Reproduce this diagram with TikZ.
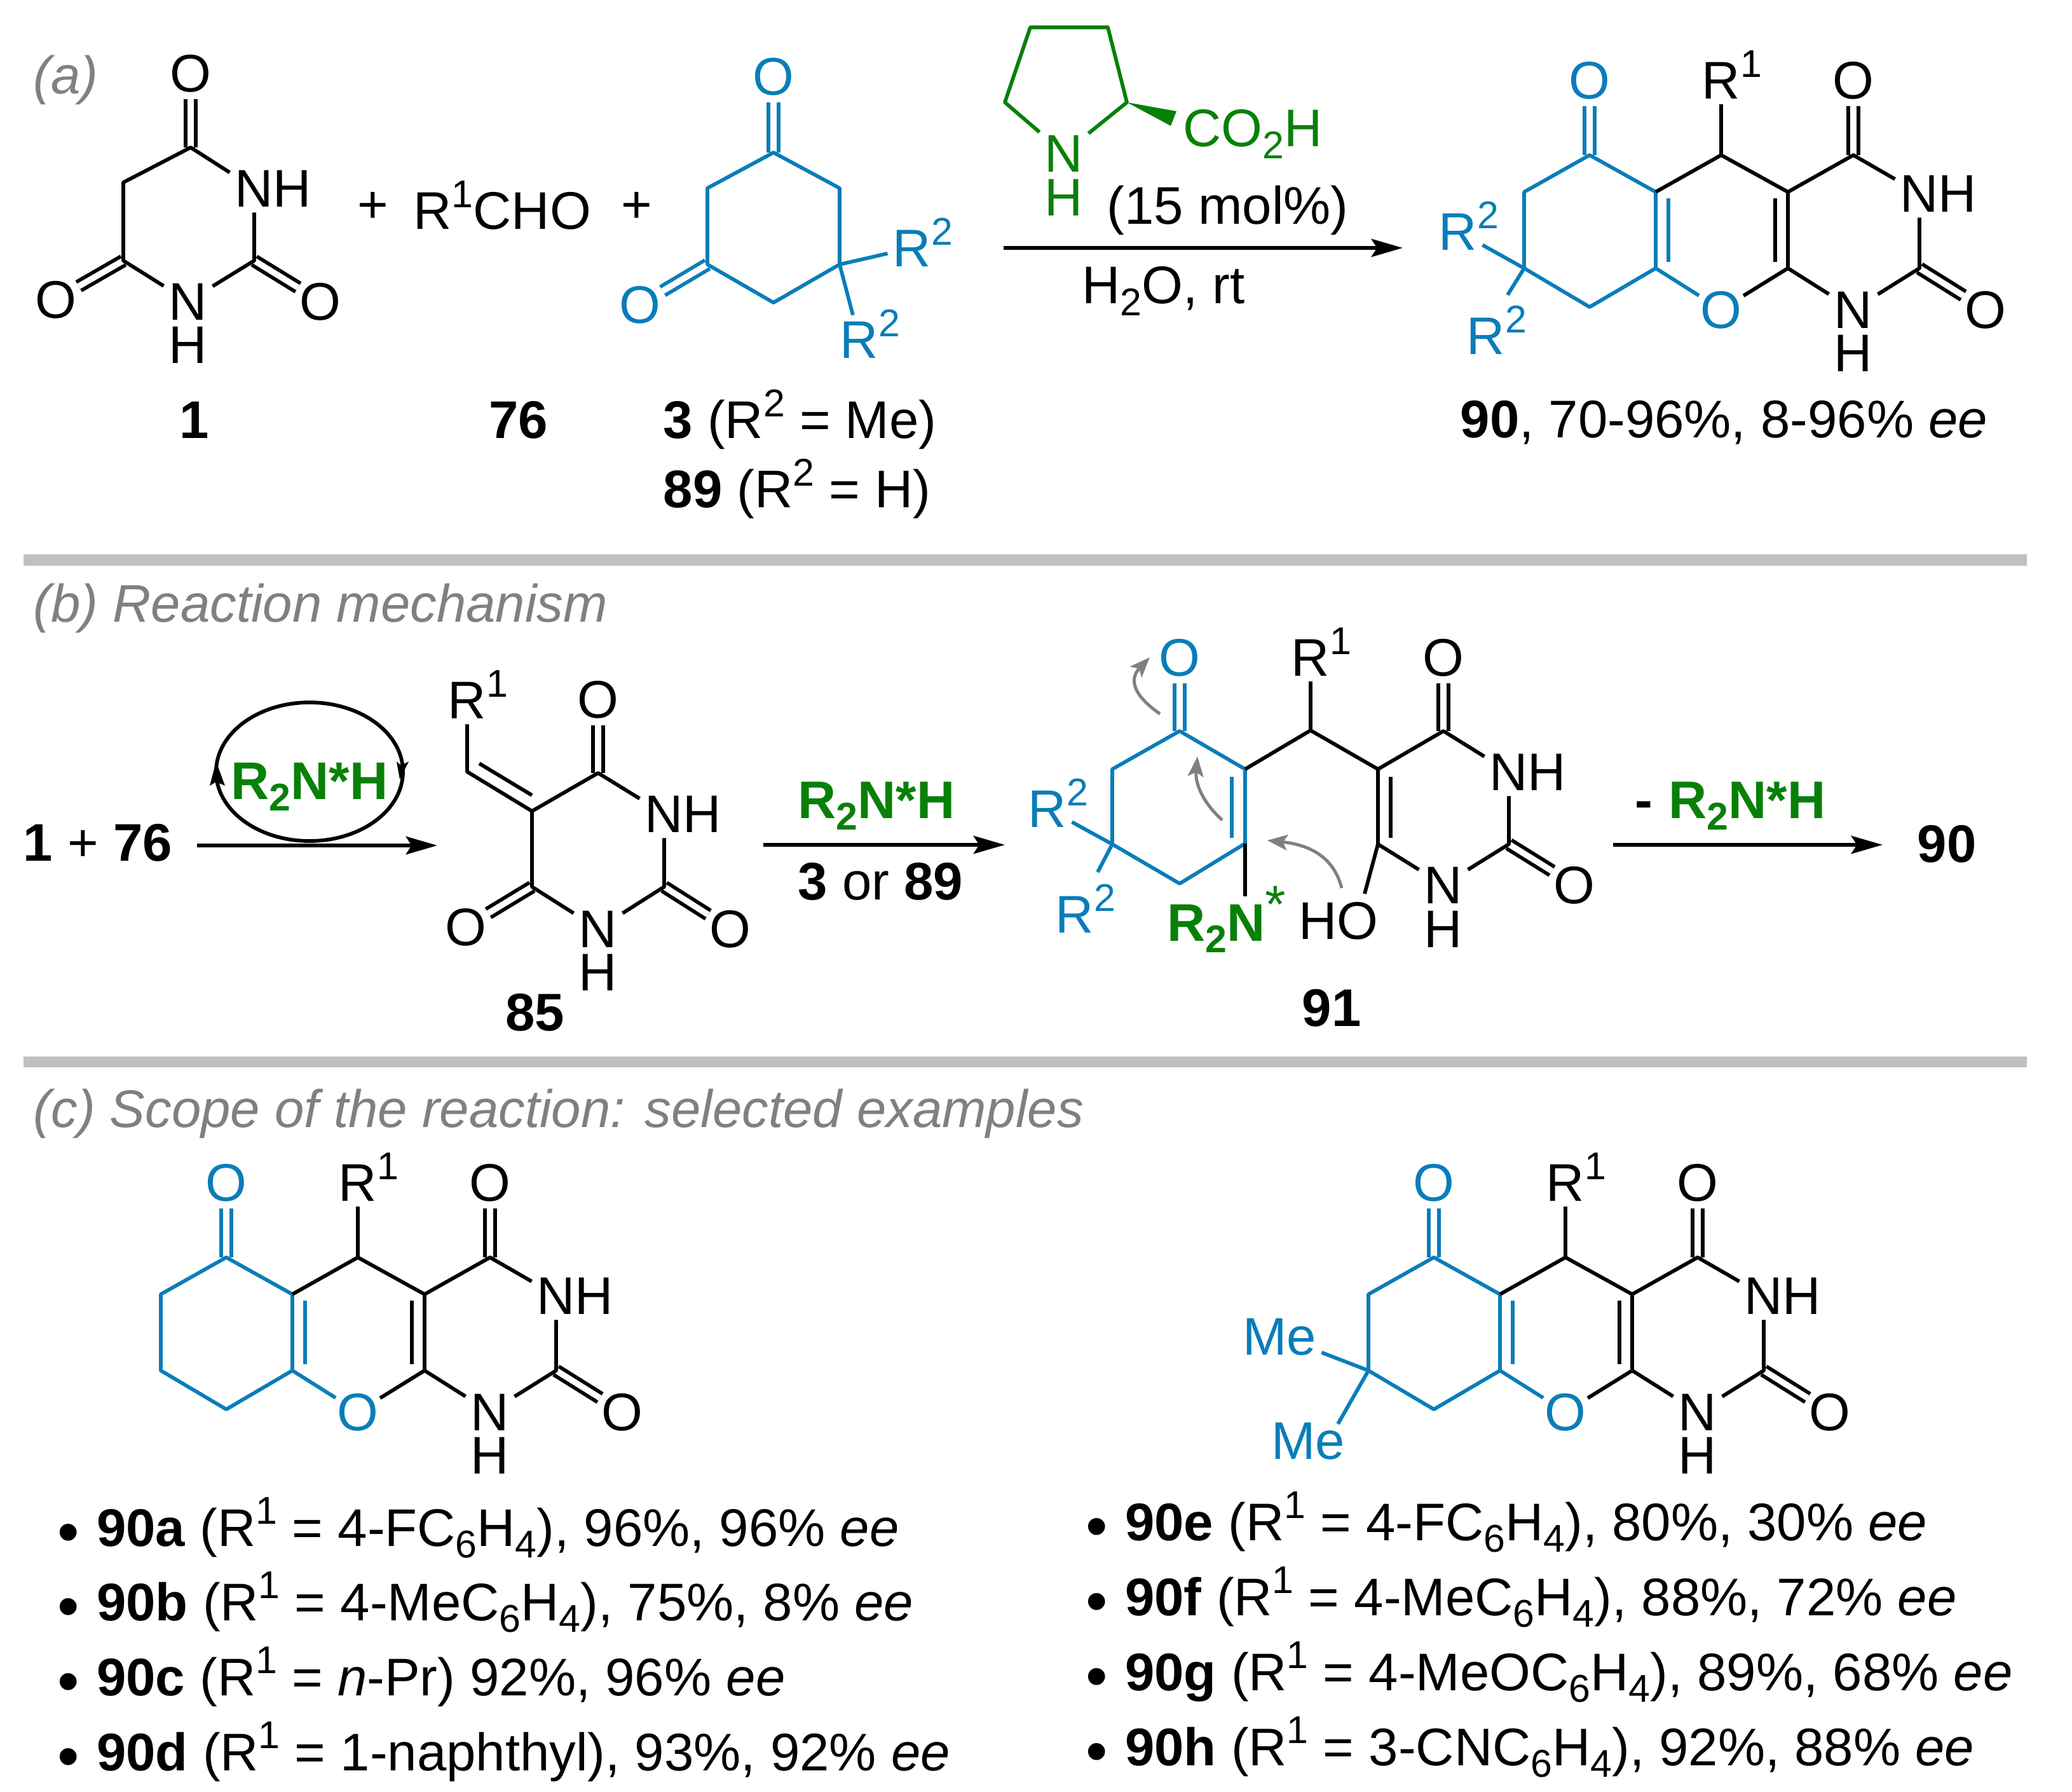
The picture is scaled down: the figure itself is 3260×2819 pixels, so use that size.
\documentclass[tikz,border=0pt]{standalone}
\usepackage{fontspec}
\setmainfont{Liberation Sans}
\usetikzlibrary{arrows.meta}
\definecolor{chemblue}{RGB}{10,125,184}
\definecolor{chemgreen}{RGB}{8,128,8}
\definecolor{labgray}{RGB}{128,128,128}
\definecolor{bargray}{RGB}{192,192,192}
\newcommand{\supr}[1]{\raisebox{9.7pt}{\fontsize{17.3}{17.3}\selectfont #1}}
\newcommand{\subr}[1]{\raisebox{-5.2pt}{\fontsize{17.3}{17.3}\selectfont #1}}
\newcommand{\Rone}{R\rlap{\supr{1}}}
\newcommand{\Rtwo}{R\rlap{\supr{2}}}
\newcommand{\cat}{\textbf{R\subr{2}N*H}}
\newcommand{\itm}[1]{\raisebox{-3.4pt}{\fontsize{28}{28}\selectfont •}\hspace{7.7pt}#1}
\tikzset{
	atom/.style={inner sep=2.2pt,text height=17pt,text depth=0pt},
	hyd/.style={inner sep=0pt,text height=17pt,text depth=0pt},
	oxy/.style={circle,inner sep=-0.7pt,text height=17pt,text depth=0pt},
	lbl/.style={inner sep=0pt,anchor=base west},
	lblc/.style={inner sep=0pt,anchor=base},
	bond/.style={line width=1.65pt,line join=round},
	dbl/.style={bond,double=white,double distance=2.7pt},
	rxn/.style={line width=1.7pt,-{Stealth[length=14pt,width=8pt,inset=2.5pt]}},
	push/.style={labgray,line width=1.4pt,-{Stealth[length=9pt,width=7pt,inset=2pt]}},
	bar/.style={bargray}
}
\newcommand{\tricycle}[2]{
	\begin{scope}[shift={#2},name prefix=#1]
		\node[oxy,chemblue] (Oket) at (0,-118) {O};
		\node[atom] (Rsub) at (207,-118) {\Rone};
		\node[oxy] (Otop) at (415,-118) {O};
		\node[atom] (Nup) at (519,60) {N};
		\node[hyd] (Hup) at (579,60) {H};
		\node[atom] (Nlow) at (415,243) {N};
		\node[hyd] (Hlow) at (415,311) {H};
		\node[oxy] (Oright) at (623,243) {O};
		\node[oxy,chemblue] (Oring) at (207,243) {O};
		\coordinate (c1) at (0,0);
		\coordinate (c2) at (-103,58);
		\coordinate (c3) at (-103,178);
		\coordinate (c4) at (0,239);
		\coordinate (c5) at (104,178);
		\coordinate (c6) at (104,58);
		\coordinate (c7) at (207,0);
		\coordinate (c8) at (312,58);
		\coordinate (c9) at (312,178);
		\coordinate (c10) at (415,0);
		\coordinate (c11) at (519,178);
		\draw[dbl,chemblue] (c1) -- (Oket);
		\draw[dbl] (c10) -- (Otop);
		\draw[dbl] (c11) -- (Oright);
		\draw[bond,chemblue] (c6) -- (c1) -- (c2) -- (c3) -- (c4) -- (c5) -- (c6) -- cycle;
		\draw[bond,chemblue] (c5) -- (Oring);
		\draw[bond,chemblue] (124,68) -- (124,168);
		\draw[bond] (c6) -- (c7) -- (c8) -- (c9);
		\draw[bond] (292,68) -- (292,168);
		\draw[bond] (c7) -- (Rsub);
		\draw[bond] (Oring) -- (c9) -- (Nlow);
		\draw[bond] (c8) -- (c10) -- (Nup);
		\draw[bond] (Nup) -- (c11) -- (Nlow);
	\end{scope}
}
\begin{document}
\begin{tikzpicture}[x=0.01cm,y=-0.01cm,every node/.style={font=\fontsize{23.7}{28}\selectfont}]
	\useasboundingbox (0,0) rectangle (3260,2819);

	\node[lbl,labgray] (labA) at (52,148) {\textit{(a)}};
	\fill[bar] (37,872) rectangle (3189,890);
	\node[lbl,labgray] (labB) at (52,979) {\textit{(b) Reaction mechanism}};
	\fill[bar] (37,1662) rectangle (3189,1679);
	\node[lbl,labgray] (labC) at (52,1773) {\textit{(c) Scope of the reaction: selected examples}};

	\node[oxy] (baO) at (300,115) {O};
	\node[atom] (baN) at (400,296) {N};
	\node[hyd] (baNH) at (460,296) {H};
	\node[atom] (baM) at (296,474) {N};
	\node[hyd] (baMH) at (296,542) {H};
	\node[oxy] (baL) at (88,471) {O};
	\node[oxy] (baR) at (504,474) {O};
	\coordinate (ba1) at (300,232);
	\coordinate (ba2) at (194,287);
	\coordinate (ba3) at (194,410);
	\coordinate (ba4) at (400,410);
	\draw[dbl] (ba1) -- (baO);
	\draw[dbl] (ba3) -- (baL);
	\draw[dbl] (ba4) -- (baR);
	\draw[bond] (baN) -- (ba1) -- (ba2) -- (ba3) -- (baM) -- (ba4) -- (baN);
	\node[lblc] (lab1) at (306,690) {\textbf{1}};

	\node[inner sep=0pt] (plusA) at (587,326) {+};
	\node[lbl] (ald) at (650,361) {R\supr{1}CHO};
	\node[lblc] (lab76) at (816,690) {\textbf{76}};
	\node[inner sep=0pt] (plusB) at (1002,326) {+};

	\node[oxy,chemblue] (dkO) at (1217,120) {O};
	\node[oxy,chemblue] (dkP) at (1007,479) {O};
	\node[atom,chemblue] (dkR) at (1435,390) {\Rtwo};
	\node[atom,chemblue] (dkS) at (1352,534) {\Rtwo};
	\coordinate (dk1) at (1217,240);
	\coordinate (dk2) at (1113,296);
	\coordinate (dk3) at (1113,416);
	\coordinate (dk4) at (1217,476);
	\coordinate (dk5) at (1321,416);
	\coordinate (dk6) at (1321,296);
	\draw[dbl,chemblue] (dk1) -- (dkO);
	\draw[dbl,chemblue] (dk3) -- (dkP);
	\draw[bond,chemblue] (dk1) -- (dk2) -- (dk3) -- (dk4) -- (dk5) -- (dk6) -- cycle;
	\draw[bond,chemblue] (dkR) -- (dk5) -- (dkS);
	\node[lbl] (lab3) at (1043,690) {\textbf{3} (R\supr{2} = Me)};
	\node[lbl] (lab89) at (1043,799) {\textbf{89} (R\supr{2} = H)};

	\node[atom,chemgreen] (proN) at (1674,241) {N};
	\node[hyd,chemgreen] (proH) at (1674,310) {H};
	\coordinate (pro1) at (1581,161);
	\coordinate (pro2) at (1621,43);
	\coordinate (pro3) at (1743,43);
	\coordinate (pro4) at (1773,161);
	\draw[bond,chemgreen] (proN) -- (pro1) -- (pro2) -- (pro3) -- (pro4) -- (proN);
	\fill[chemgreen] (pro4) -- (1851,175) -- (1842,198) -- cycle;
	\node[lbl,chemgreen] (proC) at (1861,231) {CO\subr{2}H};
	\node[lbl] (mol) at (1741,353) {(15 mol\%)};
	\coordinate (arAa) at (1579,390);
	\coordinate (arAb) at (2207,390);
	\draw[rxn] (arAa) -- (arAb);
	\node[lbl] (solv) at (1702,478) {H\subr{2}O, rt};

	\tricycle{pr-}{(2501,244)}
	\node[atom,chemblue] (prR) at (2294,364) {\Rtwo};
	\node[atom,chemblue] (prS) at (2338,528) {\Rtwo};
	\coordinate (prSe) at (2372,464);
	\draw[bond,chemblue] (prR) -- (pr-c3) -- (prSe);
	\node[lbl] (lab90) at (2297,689) {\textbf{90}, 70-96\%, 8-96\% \textit{ee}};

	\node[lbl] (mixA) at (36,1354) {\textbf{1} + \textbf{76}};
	\coordinate (arBa) at (310,1330);
	\coordinate (arBb) at (688,1330);
	\draw[rxn] (arBa) -- (arBb);
	\draw[bond] (487,1214) ellipse [x radius=147,y radius=109];
	\fill (340,1198) -- (354,1236) -- (340,1230) -- (330,1236) -- cycle;
	\fill (629,1226) -- (643,1198) -- (631,1204) -- (624,1198) -- cycle;
	\node[lblc,chemgreen] (catA) at (487,1257) {\cat};

	\node[atom] (bnR) at (735,1101) {\Rone};
	\node[oxy] (bnO) at (941,1100) {O};
	\node[atom] (bnN) at (1045,1280) {N};
	\node[hyd] (bnNH) at (1105,1280) {H};
	\node[atom] (bnM) at (941,1461) {N};
	\node[hyd] (bnMH) at (941,1529) {H};
	\node[oxy] (bnL) at (733,1458) {O};
	\node[oxy] (bnP) at (1149,1461) {O};
	\coordinate (bn1) at (735,1214);
	\coordinate (bn2) at (837,1276);
	\coordinate (bn3) at (941,1216);
	\coordinate (bn4) at (837,1395);
	\coordinate (bn5) at (1045,1395);
	\draw[dbl] (bn3) -- (bnO);
	\draw[dbl] (bn4) -- (bnL);
	\draw[dbl] (bn5) -- (bnP);
	\draw[bond] (bnR) -- (bn1) -- (bn2);
	\draw[bond] (754,1201) -- (837,1251);
	\draw[bond] (bnN) -- (bn3) -- (bn2) -- (bn4) -- (bnM) -- (bn5) -- (bnN);
	\node[lblc] (lab85) at (842,1621) {\textbf{85}};

	\coordinate (arCa) at (1201,1329);
	\coordinate (arCb) at (1581,1329);
	\draw[rxn] (arCa) -- (arCb);
	\node[lbl,chemgreen] (catB) at (1255,1287) {\cat};
	\node[lbl] (dkSel) at (1255,1415) {\textbf{3} or \textbf{89}};

	\node[oxy,chemblue] (inO) at (1856,1034) {O};
	\node[atom] (inR) at (2062,1034) {\Rone};
	\node[oxy] (inU) at (2271,1034) {O};
	\node[atom] (inN) at (2374,1214) {N};
	\node[hyd] (inNH) at (2434,1214) {H};
	\node[atom] (inM) at (2271,1392) {N};
	\node[hyd] (inMH) at (2271,1461) {H};
	\node[oxy] (inP) at (2477,1392) {O};
	\node[atom,chemblue] (inA) at (1648,1272) {\Rtwo};
	\node[atom,chemblue] (inB) at (1691,1438) {\Rtwo};
	\node[lbl,chemgreen] (inAm) at (1836,1480) {\textbf{R\subr{2}N}\raisebox{8pt}{*}};
	\node[atom] (inHO) at (2106,1448) {HO};
	\coordinate (in1) at (1856,1150);
	\coordinate (in2) at (1750,1210);
	\coordinate (in3) at (1750,1328);
	\coordinate (in4) at (1856,1390);
	\coordinate (in5) at (1959,1327);
	\coordinate (in6) at (1959,1210);
	\coordinate (in7) at (2062,1149);
	\coordinate (in8) at (2168,1210);
	\coordinate (in9) at (2168,1328);
	\coordinate (in10) at (2271,1150);
	\coordinate (in11) at (2374,1328);
	\coordinate (inBe) at (1727,1372);
	\coordinate (inAme) at (1959,1410);
	\coordinate (inHOe) at (2147,1406);
	\draw[dbl,chemblue] (in1) -- (inO);
	\draw[dbl] (in10) -- (inU);
	\draw[dbl] (in11) -- (inP);
	\draw[bond,chemblue] (in1) -- (in2) -- (in3) -- (in4) -- (in5) -- (in6) -- cycle;
	\draw[bond,chemblue] (1938,1222) -- (1938,1318);
	\draw[bond,chemblue] (inA) -- (in3) -- (inBe);
	\draw[bond] (in5) -- (inAme);
	\draw[bond] (in6) -- (in7) -- (in8) -- (in9) -- (inHOe);
	\draw[bond] (2188,1222) -- (2188,1318);
	\draw[bond] (in7) -- (inR);
	\draw[bond] (in8) -- (in10) -- (inN) -- (in11) -- (inM) -- (in9);
	\draw[push] (1825,1123) .. controls (1785,1095) and (1775,1070) .. (1809,1034);
	\draw[push] (1923,1290) .. controls (1895,1265) and (1880,1235) .. (1884,1190);
	\draw[push] (2111,1397) .. controls (2100,1355) and (2070,1330) .. (1994,1322);
	\node[lblc] (lab91) at (2095,1614) {\textbf{91}};

	\coordinate (arDa) at (2538,1329);
	\coordinate (arDb) at (2962,1329);
	\draw[rxn] (arDa) -- (arDb);
	\node[lbl] (catC) at (2572,1287) {\textbf{-}\hspace{0.3em}\textcolor{chemgreen}{\cat}};
	\node[lbl] (lab90b) at (3016,1356) {\textbf{90}};

	\tricycle{pa-}{(356,1978)}
	\tricycle{pe-}{(2256,1978)}
	\node[atom,chemblue] (peA) at (2013,2102) {Me};
	\node[atom,chemblue] (peB) at (2058,2266) {Me};
	\coordinate (peBe) at (2105,2240);
	\draw[bond,chemblue] (peA) -- (pe-c3) -- (peBe);

	\node[lbl] (ra) at (90,2432) {\itm{\textbf{90a} (R\supr{1} = 4-FC\subr{6}H\subr{4}), 96\%, 96\% \textit{ee}}};
	\node[lbl] (rb) at (90,2549) {\itm{\textbf{90b} (R\supr{1} = 4-MeC\subr{6}H\subr{4}), 75\%, 8\% \textit{ee}}};
	\node[lbl] (rc) at (90,2667) {\itm{\textbf{90c} (R\supr{1} = \textit{n}-Pr) 92\%, 96\% \textit{ee}}};
	\node[lbl] (rd) at (90,2785) {\itm{\textbf{90d} (R\supr{1} = 1-naphthyl), 93\%, 92\% \textit{ee}}};
	\node[lbl] (re) at (1708,2423) {\itm{\textbf{90e} (R\supr{1} = 4-FC\subr{6}H\subr{4}), 80\%, 30\% \textit{ee}}};
	\node[lbl] (rf) at (1708,2541) {\itm{\textbf{90f} (R\supr{1} = 4-MeC\subr{6}H\subr{4}), 88\%, 72\% \textit{ee}}};
	\node[lbl] (rg) at (1708,2659) {\itm{\textbf{90g} (R\supr{1} = 4-MeOC\subr{6}H\subr{4}), 89\%, 68\% \textit{ee}}};
	\node[lbl] (rh) at (1708,2777) {\itm{\textbf{90h} (R\supr{1} = 3-CNC\subr{6}H\subr{4}), 92\%, 88\% \textit{ee}}};
\end{tikzpicture}
\end{document}
